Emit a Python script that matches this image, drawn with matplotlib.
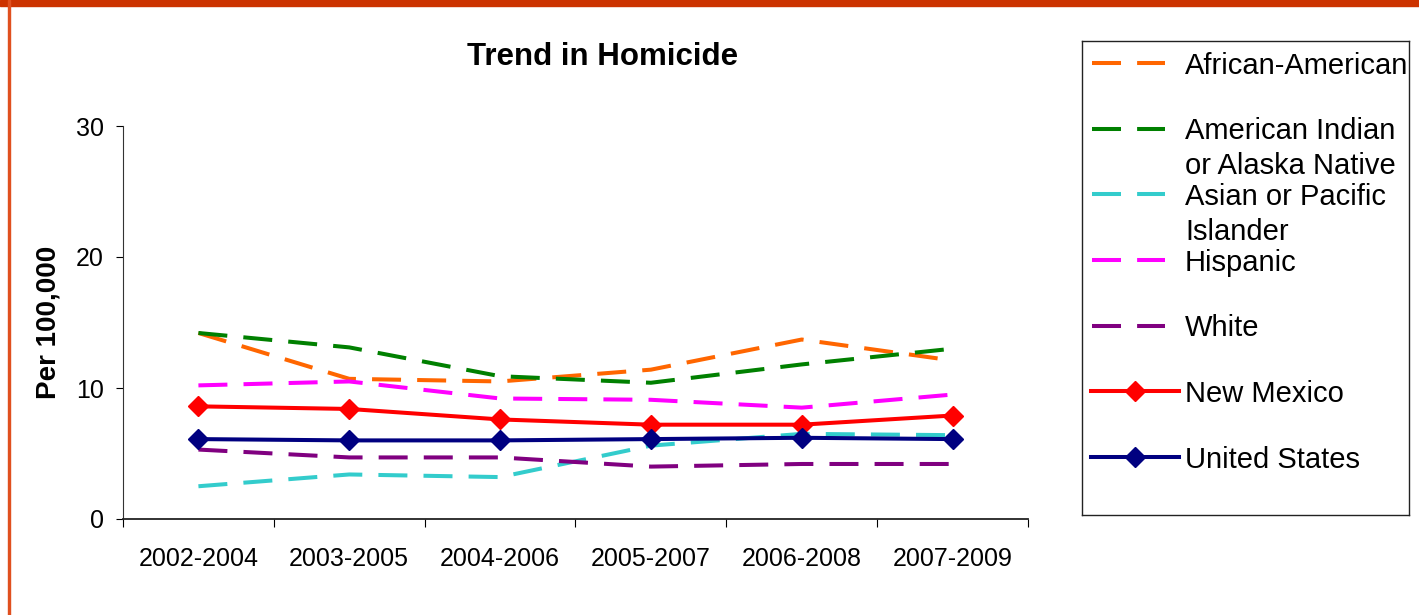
import matplotlib.pyplot as plt
from matplotlib.lines import Line2D
from matplotlib.patches import Rectangle

plt.rcParams['font.family'] = ['Liberation Sans', 'DejaVu Sans']

# Data
periods = ["2002-2004", "2003-2005", "2004-2006", "2005-2007", "2006-2008", "2007-2009"]
african_american = [14.2, 10.7, 10.5, 11.4, 13.7, 12.1]
american_indian = [14.2, 13.1, 10.9, 10.4, 11.8, 13.0]
asian_pacific = [2.5, 3.4, 3.2, 5.6, 6.5, 6.4]
hispanic = [10.2, 10.5, 9.2, 9.1, 8.5, 9.5]
white = [5.3, 4.7, 4.7, 4.0, 4.2, 4.2]
new_mexico = [8.6, 8.4, 7.6, 7.2, 7.2, 7.9]
united_states = [6.1, 6.0, 6.0, 6.1, 6.2, 6.1]

series_names = ["African-American", "American Indian\nor Alaska Native",
                "Asian or Pacific\nIslander", "Hispanic", "White",
                "New Mexico", "United States"]
series_values = [african_american, american_indian, asian_pacific, hispanic,
                 white, new_mexico, united_states]
colors = ["#FF6600", "#008000", "#33CCCC", "#FF00FF", "#800080", "#FF0000", "#000080"]
dashed = [True, True, True, True, True, False, False]

LW = 2.9
DASH = (7.2, 4.0)

fig = plt.figure(figsize=(14.19, 6.15), dpi=100)
W, H = 1419, 615

# orange frame (top band + left rule)
fig.patches.append(Rectangle((0, 1 - 6 / H), 1, 6 / H, transform=fig.transFigure,
                             color="#CC3300", zorder=0))
fig.patches.append(Rectangle((8 / W, 0), 2 / W, 1, transform=fig.transFigure,
                             color="#E0501F", zorder=0))

ax = fig.add_axes([123 / W, (H - 519) / H, 905 / W, 393 / H])
x = list(range(len(periods)))

for name, vals, c, d in zip(series_names, series_values, colors, dashed):
    if d:
        ax.plot(x, vals, color=c, lw=LW, dashes=DASH, zorder=2)
    else:
        ax.plot(x, vals, color=c, lw=LW, marker="D", markersize=10, zorder=3)

ax.set_xlim(-0.5, len(periods) - 0.5)
ax.set_ylim(0, 30)
ax.set_yticks([0, 10, 20, 30])
ax.tick_params(axis="y", labelsize=18, length=5, direction="out", pad=9)
ax.set_xticks([i - 0.5 for i in range(len(periods) + 1)])
ax.set_xticklabels([])
ax.set_xticks(x, minor=True)
ax.set_xticklabels(periods, minor=True)
ax.tick_params(axis="x", which="major", length=6, direction="out")
ax.tick_params(axis="x", which="minor", length=0, labelsize=18, pad=20)
for s in ["top", "right"]:
    ax.spines[s].set_visible(False)
ax.spines["left"].set_color("#333333")
ax.spines["bottom"].set_color("#222222")
ax.spines["bottom"].set_linewidth(1.3)

ax.set_ylabel("Per 100,000", fontsize=20, fontweight="bold")
ax.yaxis.set_label_coords((62 - 123) / 905, 0.5)
fig.text(603 / W, 1 - 57 / H, "Trend in Homicide", fontsize=22.5, fontweight="bold",
         ha="center", va="center")

# legend box (drawn manually so rows stay evenly spaced)
lax = fig.add_axes([1082 / W, (H - 515) / H, 327 / W, 474 / H])
lax.set_xlim(0, 327)
lax.set_ylim(474, 0)
lax.set_xticks([])
lax.set_yticks([])
for s in lax.spines.values():
    s.set_color("#222222")
    s.set_linewidth(1.0)
row_y = [22 + 65.7 * i for i in range(len(series_names))]
for name, c, d, ry in zip(series_names, colors, dashed, row_y):
    if d:
        lax.add_line(Line2D([10, 83], [ry, ry], color=c, lw=LW, dashes=DASH))
    else:
        lax.add_line(Line2D([9, 97], [ry, ry], color=c, lw=LW))
        lax.add_line(Line2D([53], [ry], color=c, marker="D", markersize=10))
    for k, line in enumerate(name.split("\n")):
        lax.text(103, ry + 10.5 + 35 * k, line, fontsize=21, va="baseline", ha="left")

fig.savefig("out.png", dpi=100)
